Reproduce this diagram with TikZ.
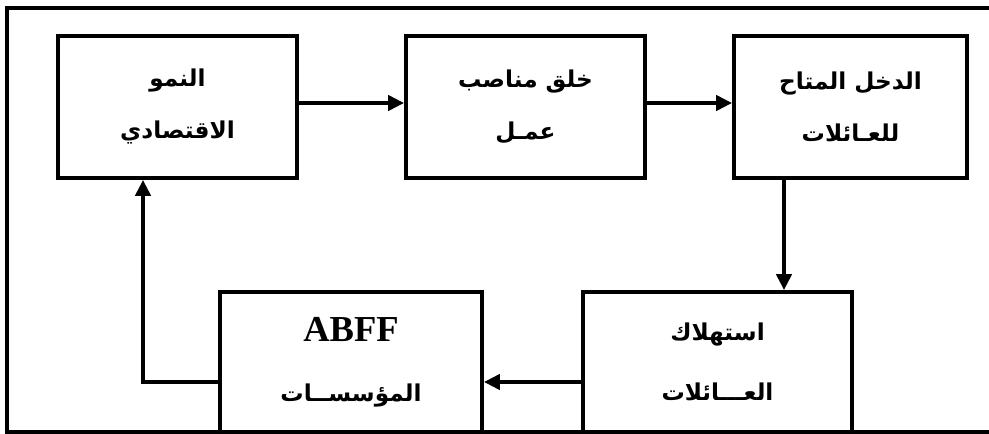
\documentclass[tikz,border=0pt]{standalone}
\usepackage{fontspec}
\setmainfont{Liberation Serif}
\newfontfamily\arabicfont[Script=Arabic]{DejaVu Sans}
\TeXXeTstate=1
\usetikzlibrary{arrows.meta,calc}
\newcommand{\ecR}[1]{\beginR #1\endR}
\tikzset{
  ecbox/.style={draw, line width=2.7pt, align=center, inner sep=0pt, font=\arabicfont\bfseries\fontsize{16.5}{37}\selectfont},
  ectop/.style={ecbox, minimum height=3.55cm},
  ecbottom/.style={ecbox, minimum height=3.5cm, font=\arabicfont\bfseries\fontsize{16.5}{43}\selectfont},
  ecarr/.style={-{Triangle[length=4mm, width=3.8mm]}, line width=2.7pt},
  ecframe/.style={line width=2.7pt}
}

\begin{document}
\begin{tikzpicture}[x=0.025cm, y=-0.025cm]
  \useasboundingbox (0,0) rectangle (989,434);
  % outer frame, open on the right
  \draw[ecframe] (989,8) -- (7,8) -- (7,432) -- (989,432);
  % top row
  \node[ectop, minimum width=5.975cm] (growth) at (177.5,107) {\ecR{النمو}\\\ecR{الاقتصادي}};
  \node[ectop, minimum width=5.975cm] (jobs) at (525.5,107) {\ecR{خلق مناصب}\\\ecR{عمـل}};
  \node[ectop, minimum width=5.825cm] (income) at (850.5,107) {\ecR{الدخل المتاح}\\\ecR{للعـائلات}};
  % bottom row
  \node[ecbottom, minimum width=6.55cm] (firms) at (351,362) {{\rmfamily\fontsize{26}{26}\selectfont ABFF}\\\ecR{المؤسســات}};
  \node[ecbottom, minimum width=6.725cm] (consum) at (717.5,362) {\ecR{استهلاك}\\\ecR{العـــائلات}};
  % flows
  \draw[ecarr] ($(growth.east)+(0,-4)$) -- ($(jobs.west)+(0,-4)$);
  \draw[ecarr] ($(jobs.east)+(0,-4)$) -- ($(income.west)+(0,-4)$);
  \draw[ecarr] ($(income.south)+(-66.5,0)$) -- ($(consum.north)+(66.5,0)$);
  \draw[ecarr] ($(consum.west)+(0,20)$) -- ($(firms.east)+(0,20)$);
  \draw[ecarr] ($(firms.west)+(0,20)$) -| ($(growth.south)+(-34.5,0)$);
\end{tikzpicture}
\end{document}
